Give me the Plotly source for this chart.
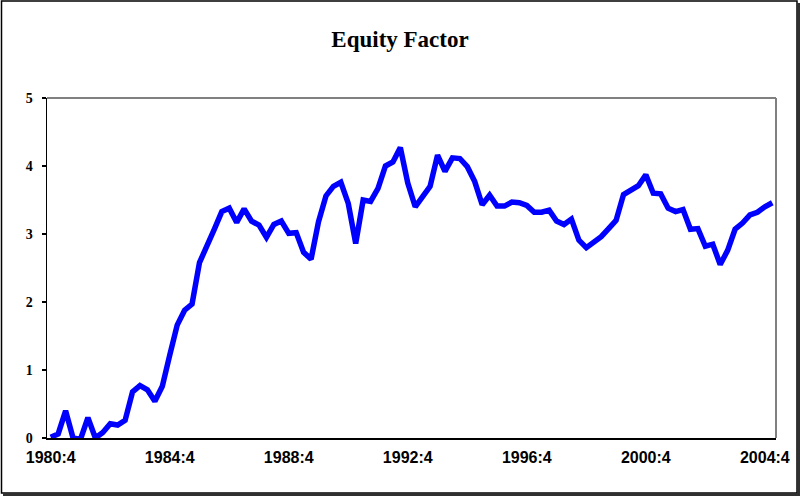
import plotly.graph_objects as go

# Quarterly categories 1980:4 .. 2005:1
quarters = []
year, q = 1980, 4
while (year, q) <= (2005, 1):
    quarters.append(f"{year}:{q}")
    q += 1
    if q > 4:
        q = 1
        year += 1

equity_factor = [
    0.01, 0.06, 0.40, 0.00, -0.02, 0.30, 0.00, 0.08, 0.21, 0.19,
    0.26, 0.68, 0.77, 0.71, 0.54, 0.76, 1.22, 1.66, 1.88, 1.97,
    2.58, 2.85, 3.07, 3.33, 3.38, 3.17, 3.37, 3.19, 3.13, 2.95,
    3.14, 3.19, 3.01, 3.02, 2.73, 2.63, 3.18, 3.56, 3.70, 3.76,
    3.45, 2.86, 3.50, 3.48, 3.67, 4.00, 4.06, 4.27, 3.75, 3.40,
    3.55, 3.70, 4.16, 3.92, 4.12, 4.11, 3.99, 3.77, 3.43, 3.57,
    3.41, 3.41, 3.47, 3.46, 3.42, 3.32, 3.32, 3.35, 3.19, 3.14,
    3.22, 2.91, 2.80, 2.89, 2.96, 3.08, 3.20, 3.58, 3.65, 3.71,
    3.87, 3.60, 3.59, 3.38, 3.33, 3.36, 3.07, 3.08, 2.82, 2.85,
    2.55, 2.76, 3.07, 3.16, 3.28, 3.32, 3.40, 3.46,
]

x_tick_labels = ["1980:4", "1984:4", "1988:4", "1992:4", "1996:4", "2000:4", "2004:4"]
y_tick_values = [0, 1, 2, 3, 4, 5]

W, H = 800, 496
L, R, T, B = 47, 24, 98, 58
PW, PH = W - L - R, H - T - B


def px_x(p):
    return (p - L) / PW


def px_y(p):
    return (H - B - p) / PH


fig = go.Figure()
fig.add_trace(go.Scatter(
    x=quarters, y=equity_factor, mode="lines",
    line=dict(color="#0000FF", width=5.5),
    hoverinfo="skip", showlegend=False,
))

shapes = [
    # plot-area border (top and right, gray)
    dict(type="line", xref="paper", yref="paper", x0=0, x1=1, y0=1, y1=1,
         line=dict(color="#808080", width=2)),
    dict(type="line", xref="paper", yref="paper", x0=1, x1=1, y0=0, y1=1,
         line=dict(color="#808080", width=2)),
    # outer frame
    dict(type="rect", xref="paper", yref="paper",
         x0=px_x(1.5), x1=px_x(797), y0=px_y(1), y1=px_y(493),
         line=dict(color="#000000", width=1.5), layer="below"),
    # frame shadow right / bottom
    dict(type="rect", xref="paper", yref="paper",
         x0=px_x(797), x1=px_x(800), y0=px_y(3), y1=px_y(496),
         fillcolor="#303030", line=dict(width=0), layer="below"),
    dict(type="rect", xref="paper", yref="paper",
         x0=px_x(3), x1=px_x(800), y0=px_y(493), y1=px_y(496),
         fillcolor="#303030", line=dict(width=0), layer="below"),
]

fig.update_layout(
    width=W, height=H,
    margin=dict(l=L, r=R, t=T, b=B, pad=0, autoexpand=False),
    paper_bgcolor="white", plot_bgcolor="white",
    title=dict(
        text="<b>Equity Factor</b>",
        x=0.5, xref="container", xanchor="center",
        y=1 - 39 / H, yref="container", yanchor="middle",
        font=dict(family="Liberation Serif, Times New Roman, serif", size=23, color="black"),
    ),
    shapes=shapes,
    xaxis=dict(
        type="category",
        range=[-0.5, len(quarters) - 0.5],
        tickmode="array", tickvals=x_tick_labels, ticktext=x_tick_labels,
        ticks="", showgrid=False, zeroline=False, automargin=False,
        showline=True, linecolor="black", linewidth=1.5,
        tickfont=dict(family="Liberation Sans, Arial, sans-serif", size=16,
                      color="black", weight="bold"),
        ticklabelstandoff=4,
    ),
    yaxis=dict(
        range=[0, 5], tickmode="array", tickvals=y_tick_values,
        ticks="outside", ticklen=4, tickwidth=1.5, tickcolor="black",
        showgrid=False, zeroline=False, automargin=False,
        showline=True, linecolor="black", linewidth=1.5,
        tickfont=dict(family="Liberation Serif, Times New Roman, serif", size=14,
                      color="black", weight="bold"),
        ticklabelstandoff=6,
    ),
)

fig.write_html(
    "out.html",
    config={"displayModeBar": False, "staticPlot": True},
    post_script="document.body.style.margin='0';document.body.style.padding='0';"
                "document.body.style.overflow='hidden';",
)
